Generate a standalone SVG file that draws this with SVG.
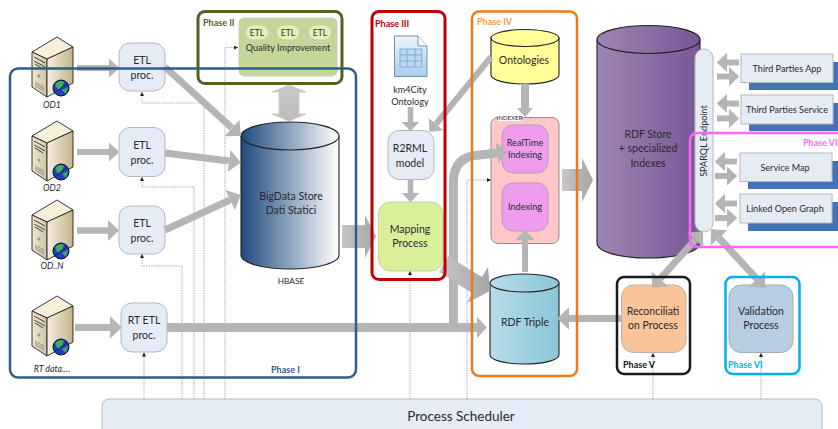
<svg xmlns="http://www.w3.org/2000/svg" width="838" height="429" viewBox="0 0 838 429">
<style>
text{font-family:"Lato","Liberation Sans",sans-serif;fill:#2a2a30;text-anchor:middle;font-size:10.500px}
.box{fill:#e6ecf6;stroke:#b4b8bd;stroke-width:1}
.ptext{font-weight:bold;font-size:9px;text-anchor:start}
.frame{fill:none}
.cyl{stroke:#222;stroke-width:1.1}
.sh{fill:#4472b8}
.srv{font-style:italic;font-size:8.800px}
.sm{font-size:9.100px}
.pill{fill:#e4f0b8;stroke:#c6d4a0}
.a{fill:none;stroke:#b5b5b5}
.f{fill:#b5b5b5;stroke:none}
.d{fill:none;stroke:#8c8c8c;stroke-width:.7;stroke-dasharray:1.5 1;marker-end:url(#tri)}
</style>
<defs>
<linearGradient id="gStore"><stop offset="0" stop-color="#1f4a7d"/><stop offset="1" stop-color="#ffffff"/></linearGradient>
<linearGradient id="gRdf"><stop offset="0" stop-color="#9d86b3"/><stop offset="1" stop-color="#775795"/></linearGradient>
<linearGradient id="gTri"><stop offset="0" stop-color="#b6dde8"/><stop offset="1" stop-color="#8ac6d8"/></linearGradient>
<linearGradient id="gFront" x1="0" y1="0" x2="1" y2="0"><stop offset="0" stop-color="#efe6d0"/><stop offset="1" stop-color="#d2c4a4"/></linearGradient>
<linearGradient id="gSide" x1="0" y1="0" x2="1" y2="0"><stop offset="0" stop-color="#f6f0e0"/><stop offset="1" stop-color="#c4b28a"/></linearGradient>
<linearGradient id="gDoc" x1="0" y1="0" x2="0" y2="1"><stop offset="0" stop-color="#eef4fa"/><stop offset="1" stop-color="#a9cdec"/></linearGradient>
<linearGradient id="gDbl" x1="0" y1="0" x2="0" y2="1"><stop offset="0" stop-color="#c8c8c8"/><stop offset="1" stop-color="#bdbdbd"/></linearGradient>
<linearGradient id="gWide"><stop offset="0" stop-color="#c6c6c6"/><stop offset="1" stop-color="#a6a6a6"/></linearGradient>
<marker id="h" markerWidth="1.7" markerHeight="3.200" refX="0" refY="1.600" orient="auto" markerUnits="strokeWidth"><path d="M0,0L1.700,1.600L0,3.200z" fill="#b5b5b5"/></marker>
<marker id="hs" markerWidth="1.7" markerHeight="3.200" refX="0" refY="1.600" orient="auto-start-reverse" markerUnits="strokeWidth"><path d="M0,0L1.700,1.600L0,3.200z" fill="#b5b5b5"/></marker>
<marker id="hw" markerWidth="1.1" markerHeight="2.400" refX="0" refY="1.200" orient="auto" markerUnits="strokeWidth"><path d="M0,0L1.100,1.200L0,2.400z" fill="#b5b5b5"/></marker>
<marker id="tri" markerWidth="5" markerHeight="5" refX="4" refY="2" orient="auto" markerUnits="userSpaceOnUse"><path d="M0,0L4,2L0,4z" fill="#222"/></marker>
<g id="server">
<path d="M1,15L26,0L42,10L16,22z" fill="#f6efdc" stroke="#222" stroke-width=".9"/>
<path d="M1,15L16,22V60L1,50z" fill="url(#gFront)" stroke="#222" stroke-width=".9"/>
<path d="M16,22L42,10V46L16,60z" fill="url(#gSide)" stroke="#222" stroke-width=".9"/>
<path d="M3,20L14,26M3,24L14,30M4,27L12,32" stroke="#333" stroke-width=".9"/>
<circle cx="8" cy="39" r="1.500" fill="#6fa88a"/>
<path d="M4,45L13,50M4,47L13,52M4,49L13,54" stroke="#777" stroke-width=".7"/>
<circle cx="30" cy="51" r="8" fill="#1f3fc0" stroke="#112"/>
<path d="M24,47Q29,42 33,45L31,50L27,53zM31,53L37,50L35,57z" fill="#3fae5a"/>
<path d="M23,56L37,46" stroke="#111" stroke-width=".7"/>
</g>
</defs>

<rect width="838" height="429" fill="#fff"/>

<g id="scheduler"><rect class="box" x="102" y="399" width="720" height="45" rx="7"/><text x="461" y="421" style="font-size:13.500px">Process Scheduler</text></g>

<g id="od1"><use href="#server" x="31" y="37"/><text class="srv" x="52" y="108">OD1</text></g>
<g id="od2"><use href="#server" x="31" y="121"/><text class="srv" x="52" y="191">OD2</text></g>
<g id="odn"><use href="#server" x="31" y="200"/><text class="srv" x="52" y="269">OD..N</text></g>
<g id="rtdata"><use href="#server" x="31" y="296"/><text class="srv" x="52" y="372">RT data....</text></g>

<g id="etl1"><rect class="box" x="119" y="43" width="46" height="48" rx="11"/><text x="142" y="64">ETL</text><text x="142" y="79">proc.</text></g>
<g id="etl2"><rect class="box" x="119" y="127.500" width="46" height="49" rx="11"/><text x="142" y="149">ETL</text><text x="142" y="164">proc.</text></g>
<g id="etln"><rect class="box" x="119" y="206" width="46" height="48" rx="11"/><text x="142" y="227">ETL</text><text x="142" y="242">proc.</text></g>
<g id="rtetl"><rect class="box" x="121" y="303" width="46" height="49" rx="11"/><text x="144" y="324">RT ETL</text><text x="144" y="339">proc.</text></g>

<g id="quality"><rect x="239" y="18" width="98" height="58" rx="5" fill="#c3d69b" stroke="#c9d3b8"/>
<rect class="pill" x="245.500" y="25" width="23" height="15" rx="7.500"/><text x="257" y="36" style="font-size:8.500px">ETL</text>
<rect class="pill" x="276.500" y="25" width="23" height="15" rx="7.500"/><text x="288" y="36" style="font-size:8.500px">ETL</text>
<rect class="pill" x="308.500" y="25" width="23" height="15" rx="7.500"/><text x="320" y="36" style="font-size:8.500px">ETL</text>
<text class="sm" x="288" y="51">Quality Improvement</text></g>

<g id="bigdata"><path class="cyl" d="M241,136V255C241,263 263,269 290,269S339,263 339,255V136z" fill="url(#gStore)"/><ellipse class="cyl" cx="290" cy="136" rx="49" ry="14" fill="url(#gStore)"/><text x="291" y="200">BigData Store</text><text x="291" y="214">Dati Statici</text><text x="291" y="284" style="font-size:8.300px">HBASE</text></g>

<g id="km4city"><path d="M394.500,36H418L427,46V76.500H394.500z" fill="url(#gDoc)" stroke="#6e8fae"/><path d="M418,36V46H427" fill="#fff" stroke="#6e8fae"/><path d="M400,49H422V67H400zM400,55H422M400,61H422M407,49V67M415,49V67" fill="#bcd7ef" stroke="#6ea6d6" stroke-width=".8"/><text class="sm" x="410" y="93">km4City</text><text class="sm" x="410" y="105">Ontology</text></g>
<g id="r2rml"><rect class="box" x="388" y="130.500" width="46" height="49" rx="11"/><text x="410" y="152">R2RML</text><text x="410" y="167">model</text></g>
<g id="mapping"><rect x="378.500" y="202" width="64.500" height="69" rx="12" fill="#d9f099" stroke="#c4cfa8"/><text x="410" y="233">Mapping</text><text x="410" y="247">Process</text></g>

<g id="ontologies"><path class="cyl" d="M491,38V75C491,80 506,84 525,84S559,80 559,75V38z" fill="#ffff99"/><ellipse class="cyl" cx="525" cy="38" rx="34" ry="8.500" fill="#ffff99"/><text x="524" y="64">Ontologies</text></g>
<g id="indexer"><rect x="491" y="117.500" width="68" height="126" rx="7" fill="#ffc7c7" stroke="#8f8f8f"/><rect x="498" y="114" width="23" height="7" fill="#fff"/><text x="509.500" y="120" style="font-size:6px">INDEXER</text>
<rect x="502" y="125" width="46" height="48" rx="11" fill="#f09cec" stroke="#b79ab5"/><text class="sm" x="525" y="146">RealTime</text><text class="sm" x="525" y="158">Indexing</text>
<rect x="502" y="183" width="46" height="48" rx="11" fill="#f09cec" stroke="#b79ab5"/><text class="sm" x="525" y="210">Indexing</text></g>
<g id="rdftriple"><path class="cyl" d="M490,283V355C490,360 505,364 524.500,364S559,360 559,355V283z" fill="url(#gTri)"/><ellipse class="cyl" cx="524.500" cy="283" rx="34.500" ry="9" fill="url(#gTri)"/><text x="525" y="326">RDF Triple</text></g>

<g id="rdfstore"><path class="cyl" d="M597,40V243C597,252 620,258 648,258S700,252 700,243V40z" fill="url(#gRdf)"/><ellipse class="cyl" cx="648.500" cy="39.500" rx="51.500" ry="14" fill="url(#gRdf)"/><text x="648" y="138">RDF Store</text><text x="648" y="152">+ specialized</text><text x="648" y="167">Indexes</text></g>

<g id="sparql"><rect class="box" x="695" y="49" width="18" height="183" rx="9" stroke-width="1.200"/><text class="sm" transform="translate(707,141) rotate(-90)">SPARQL Endpoint</text></g>

<g id="tpapp"><rect class="sh" x="749" y="62" width="89" height="28"/><rect class="box" x="741" y="54" width="92" height="28.500" stroke-width="1.200"/><text class="sm" x="787" y="72">Third Parties App</text></g>
<g id="tpservice"><rect class="sh" x="749" y="103" width="89" height="28"/><rect class="box" x="741" y="95" width="92" height="29" stroke-width="1.200"/><text class="sm" x="787" y="113">Third Parties Service</text></g>
<g id="servicemap"><rect class="sh" x="748" y="161" width="90" height="28"/><rect class="box" x="740" y="153" width="92" height="28.500" stroke-width="1.200"/><text class="sm" x="785" y="171">Service Map</text></g>
<g id="linkedog"><rect class="sh" x="748" y="202" width="90" height="29"/><rect class="box" x="740" y="194" width="92" height="29" stroke-width="1.200"/><text class="sm" x="785" y="212">Linked Open Graph</text></g>

<g id="reconciliation"><rect x="621.500" y="285" width="64.500" height="67.500" rx="12" fill="#f9c499" stroke="#bdb3a8"/><text x="653" y="315">Reconciliati</text><text x="653" y="329">on Process</text></g>
<g id="validation"><rect x="729" y="285" width="64" height="67.500" rx="12" fill="#b9cde0" stroke="#a5adb6"/><text x="761" y="315">Validation</text><text x="761" y="329">Process</text></g>

<g id="connectors">
<path class="d" d="M204,399V103H142V92"/>
<path class="d" d="M194,399V187H142V177"/>
<path class="d" d="M182,399V266H142V254"/>
<path class="d" d="M144,399V352.500"/>
<path class="d" d="M225,399V47.500H238"/>
<path class="d" d="M410,399V271"/>
<path class="d" d="M467,399V180H491"/>
<path class="d" d="M653,399V353"/>
<path class="d" d="M761,399V353"/>

<path class="a" stroke-width="6" d="M77,68H109" marker-end="url(#h)"/>
<path class="a" stroke-width="6" d="M77,152H109" marker-end="url(#h)"/>
<path class="a" stroke-width="6.500" d="M77,230.500H108" marker-end="url(#h)"/>
<path class="a" stroke-width="7" d="M75,327.500H110" marker-end="url(#h)"/>
<path class="a" stroke-width="7" d="M165,67L232,128" marker-end="url(#h)"/>
<path class="a" stroke-width="7" d="M165,153L229,161" marker-end="url(#h)"/>
<path class="a" stroke-width="7" d="M165,230L230,200" marker-end="url(#h)"/>
<path d="M342,225H365V215L376,236.500L365,258V248H342z" fill="url(#gWide)"/>
<path class="a" stroke-width="5.500" d="M410.500,107V122" marker-end="url(#h)"/>
<path class="a" stroke-width="5.500" d="M410.500,179V193" marker-end="url(#h)"/>
<path class="a" stroke-width="6" d="M491,57L436,124" marker-end="url(#h)"/>
<path class="f" d="M521,84H529V108H533L525,117L517,108H521z"/>
<path class="a" stroke-width="9" d="M453.500,323V182Q453.500,156 480,155L497,153" marker-end="url(#hw)"/>
<path class="a" stroke-width="9" d="M167,327.500H477" marker-end="url(#hw)"/>
<path d="M448,256L482,277L488,267L490,291L467,303L472,293L439,272z" fill="url(#gWide)"/>
<path class="a" stroke-width="6" d="M525,272V240" marker-end="url(#h)"/>
<path d="M562,169H582V158L593,180L582,202V191H562z" fill="url(#gWide)"/>
<path class="a" stroke-width="7" d="M621,318.500H569" marker-end="url(#h)"/>
<path class="a" stroke-width="6" d="M739,62.500H727" marker-end="url(#h)"/>
<path class="a" stroke-width="6" d="M717,76.500H729" marker-end="url(#h)"/>
<path class="a" stroke-width="6" d="M739,103.500H727" marker-end="url(#h)"/>
<path class="a" stroke-width="6" d="M717,118.500H729" marker-end="url(#h)"/>
<path class="a" stroke-width="6" d="M737,161.500H725" marker-end="url(#h)"/>
<path class="a" stroke-width="6" d="M715,176H727" marker-end="url(#h)"/>
<path class="a" stroke-width="6" d="M737,203.500H725" marker-end="url(#h)"/>
<path class="a" stroke-width="6" d="M715,218H727" marker-end="url(#h)"/>
<path class="a" stroke-width="7" d="M695,240L660,279" marker-start="url(#hs)" marker-end="url(#hs)"/>
<path class="a" stroke-width="7" d="M719,238L757,279" marker-start="url(#hs)" marker-end="url(#hs)"/>
<path d="M289,85L306,92H299V114H306L289,121L272,114H279V92H272z" fill="url(#gDbl)" stroke="#c8c8c8" stroke-width=".8"/>
</g>

<g id="phase1"><rect class="frame" x="10" y="68.500" width="346" height="309" rx="8" stroke="#2f5b8f" stroke-width="2.500"/><text class="ptext" x="271" y="373" style="fill:#2f5b8f">Phase I</text></g>
<g id="phase2"><rect class="frame" x="198" y="11.500" width="144" height="72" rx="7" stroke="#4f6228" stroke-width="3"/><text class="ptext" x="203" y="26" style="fill:#4f6228">Phase II</text></g>
<g id="phase3"><rect class="frame" x="372" y="11.500" width="73" height="268" rx="7" stroke="#c00000" stroke-width="3"/><text class="ptext" x="375" y="27" style="fill:#c00000">Phase III</text></g>
<g id="phase4"><rect class="frame" x="472" y="11.500" width="105" height="364.500" rx="7" stroke="#f07818" stroke-width="2.500"/><text class="ptext" x="477" y="25" style="fill:#f59b4b">Phase IV</text></g>
<g id="phase5"><rect class="frame" x="617" y="277" width="73" height="97" rx="7" stroke="#1a1a1a" stroke-width="2.500"/><text class="ptext" x="623" y="368" style="fill:#111">Phase V</text></g>
<g id="phase6"><rect class="frame" x="725.500" y="277" width="74" height="97" rx="7" stroke="#00b0f0" stroke-width="2.500"/><text class="ptext" x="728" y="368" style="fill:#00b0f0">Phase VI</text></g>
<g id="phase7"><rect class="frame" x="690" y="133" width="160" height="114" rx="7" stroke="#ff66ff" stroke-width="2.500"/><text class="ptext" x="803" y="146" style="fill:#ff66ff">Phase VI</text></g>
</svg>
